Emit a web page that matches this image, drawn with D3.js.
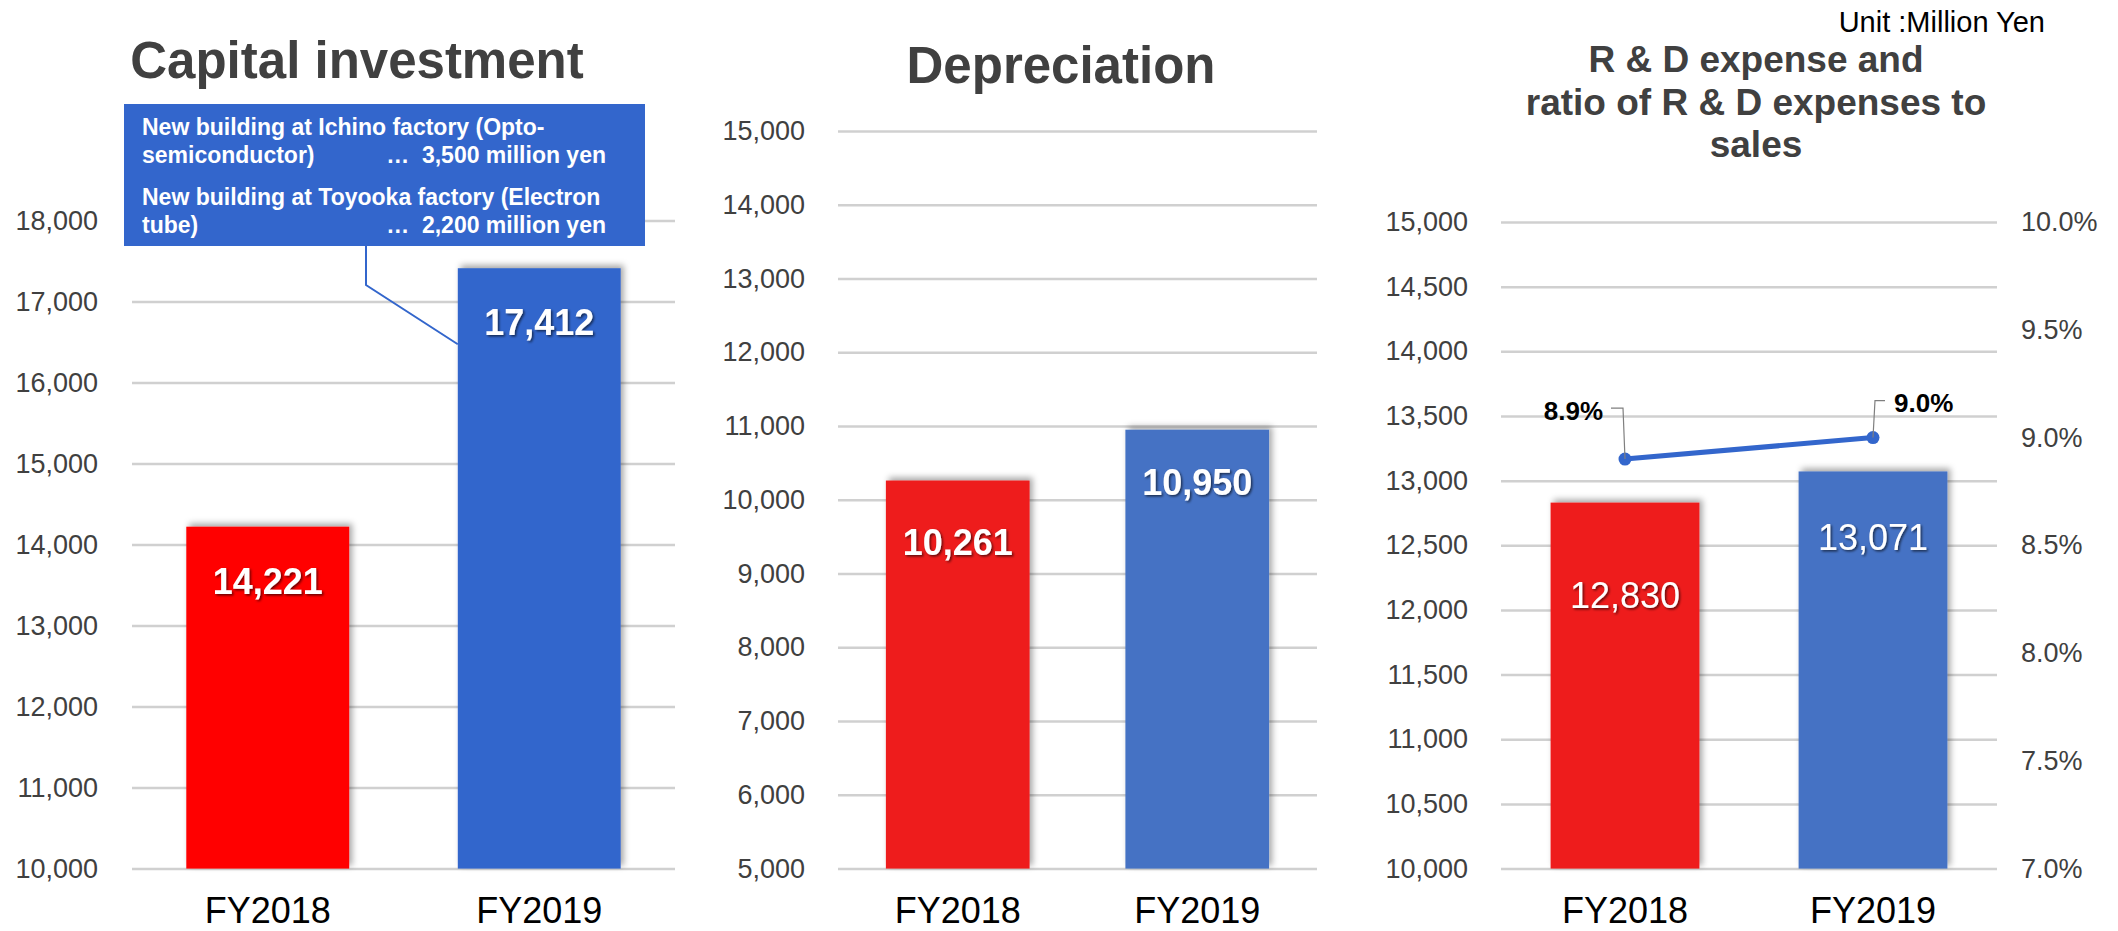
<!DOCTYPE html>
<html>
<head>
<meta charset="utf-8">
<script src="https://cdn.jsdelivr.net/npm/d3@7"></script>
<style>
  html, body { margin: 0; padding: 0; background: #ffffff; }
  svg { display: block; font-family: "Liberation Sans", Arial, sans-serif; }
</style>
</head>
<body>
<svg id="chart" width="2118" height="931"></svg>
<script>
// Data
const fiscalYears = ["FY2018", "FY2019"];
const capitalInvestment = [14221, 17412];
const depreciation = [10261, 10950];
const rdExpense = [12830, 13071];
const rdRatio = [8.9, 9.0];

const capexTicks = [10000, 11000, 12000, 13000, 14000, 15000, 16000, 17000, 18000];
const deprTicks = [5000, 6000, 7000, 8000, 9000, 10000, 11000, 12000, 13000, 14000, 15000];
const rdTicks = [10000, 10500, 11000, 11500, 12000, 12500, 13000, 13500, 14000, 14500, 15000];
const ratioTicks = [7.0, 7.5, 8.0, 8.5, 9.0, 9.5, 10.0];

const capexNotes = [
    ["New building at Ichino factory (Opto-", "semiconductor)", "\u2026\u00a0 3,500 million yen"],
    ["New building at Toyooka factory (Electron", "tube)", "\u2026\u00a0 2,200 million yen"]
];

const titleColour = "#404040";
const gridColour = "#d0d0d0";

const svg = d3.select("#chart");
const defs = svg.append("defs");

// Soft shadow behind the bars
defs.append("filter").attr("id", "barShadow")
    .attr("x", "-20%").attr("y", "-20%").attr("width", "140%").attr("height", "140%")
    .append("feDropShadow")
    .attr("dx", 3).attr("dy", -3).attr("stdDeviation", 3)
    .attr("flood-color", "#000").attr("flood-opacity", 0.35);

// Dark shadow under the white value labels
defs.append("filter").attr("id", "textShadow")
    .attr("x", "-10%").attr("y", "-20%").attr("width", "120%").attr("height", "140%")
    .append("feDropShadow")
    .attr("dx", 1.5).attr("dy", 1.5).attr("stdDeviation", 1)
    .attr("flood-color", "#000").attr("flood-opacity", 0.6);

const fmt = d3.format(",");

function drawPanel(p) {
    const g = svg.append("g").attr("class", "panel");

    const x = d3.scaleBand()
        .domain(fiscalYears)
        .range([p.left, p.right])
        .paddingInner(0.4)
        .paddingOuter(0.2);

    const y = d3.scaleLinear()
        .domain(p.domain)
        .range([p.bottom, p.top]);

    // Gridlines
    g.append("g")
        .attr("transform", `translate(${p.left},0)`)
        .call(d3.axisLeft(y).tickValues(p.ticks).tickSize(-(p.right - p.left)).tickFormat(""))
        .call(a => a.select(".domain").remove())
        .selectAll("line")
        .attr("stroke", gridColour)
        .attr("stroke-width", 2.5);

    // Left tick labels
    g.append("g")
        .attr("transform", `translate(${p.labelRight},0)`)
        .call(d3.axisLeft(y).tickValues(p.ticks).tickSize(0).tickPadding(0).tickFormat(fmt))
        .call(a => a.select(".domain").remove())
        .selectAll("text")
        .attr("font-family", "Liberation Sans, Arial, sans-serif")
        .attr("font-size", 27)
        .attr("fill", titleColour);

    // Bars
    g.selectAll("rect.bar")
        .data(p.values)
        .join("rect")
        .attr("class", "bar")
        .attr("x", (d, i) => x(fiscalYears[i]))
        .attr("width", x.bandwidth())
        .attr("y", d => y(d))
        .attr("height", d => y(p.domain[0]) - y(d))
        .attr("fill", (d, i) => p.colours[i])
        .attr("filter", "url(#barShadow)");

    // Value labels inside the bar ends
    g.selectAll("text.value")
        .data(p.values)
        .join("text")
        .attr("class", "value")
        .attr("x", (d, i) => x(fiscalYears[i]) + x.bandwidth() / 2)
        .attr("y", (d, i) => y(d) + p.labelDy[i])
        .attr("dy", "0.36em")
        .attr("text-anchor", "middle")
        .attr("font-size", 36)
        .attr("font-weight", p.labelWeight)
        .attr("fill", "#fff")
        .attr("filter", "url(#textShadow)")
        .text(d => fmt(d));

    // Category labels
    g.append("g")
        .attr("transform", `translate(0,${p.bottom})`)
        .call(d3.axisBottom(x).tickSize(0).tickPadding(29))
        .call(a => a.select(".domain").remove())
        .selectAll("text")
        .attr("font-family", "Liberation Sans, Arial, sans-serif")
        .attr("font-size", 36)
        .attr("fill", "#000");

    // Title
    const title = g.append("text")
        .attr("x", p.titleX)
        .attr("y", p.titleY)
        .attr("text-anchor", "middle")
        .attr("font-size", p.titleSize)
        .attr("font-weight", "bold")
        .attr("fill", titleColour);
    p.title.forEach((t, i) => {
        title.append("tspan")
            .attr("x", p.titleX)
            .attr("dy", i === 0 ? 0 : p.titleLead)
            .text(t);
    });

    return { g, x, y };
}

// Capital investment
const cap = drawPanel({
    left: 132, right: 675, top: 220.6, bottom: 868.6, labelRight: 98,
    domain: [10000, 18000], ticks: capexTicks, values: capitalInvestment,
    colours: ["#ff0000", "#3366cc"], labelDy: [54, 54], labelWeight: "bold",
    title: ["Capital investment"], titleX: 357, titleY: 78, titleSize: 51, titleLead: 0
});

// Callout box for the FY2019 investment
const box = { x: 124, y: 104, w: 521, h: 142 };
cap.g.append("polyline")
    .attr("points", [[366, box.y + box.h], [366, 285],
        [cap.x("FY2019"), cap.y(capitalInvestment[1]) + 76]].join(" "))
    .attr("fill", "none")
    .attr("stroke", "#3366cc")
    .attr("stroke-width", 2);
cap.g.append("rect")
    .attr("x", box.x).attr("y", box.y)
    .attr("width", box.w).attr("height", box.h)
    .attr("fill", "#3366cc");
capexNotes.forEach((note, i) => {
    const base = box.y + 31 + i * 70;
    cap.g.append("text")
        .attr("x", box.x + 18).attr("y", base)
        .attr("font-size", 23).attr("font-weight", "bold").attr("fill", "#fff")
        .text(note[0]);
    cap.g.append("text")
        .attr("x", box.x + 18).attr("y", base + 28)
        .attr("font-size", 23).attr("font-weight", "bold").attr("fill", "#fff")
        .text(note[1]);
    cap.g.append("text")
        .attr("x", box.x + box.w - 39).attr("y", base + 28)
        .attr("text-anchor", "end")
        .attr("font-size", 23).attr("font-weight", "bold").attr("fill", "#fff")
        .text(note[2]);
});

// Depreciation
drawPanel({
    left: 838, right: 1317, top: 131, bottom: 868.6, labelRight: 805,
    domain: [5000, 15000], ticks: deprTicks, values: depreciation,
    colours: ["#ee1c1c", "#4472c4"], labelDy: [61, 52], labelWeight: "bold",
    title: ["Depreciation"], titleX: 1061, titleY: 83, titleSize: 51, titleLead: 0
});

// R & D expense with ratio line
const rd = drawPanel({
    left: 1501, right: 1997, top: 222, bottom: 868.6, labelRight: 1468,
    domain: [10000, 15000], ticks: rdTicks, values: rdExpense,
    colours: ["#ee1c1c", "#4472c4"], labelDy: [92, 66], labelWeight: "normal",
    title: ["R & D expense and", "ratio of R & D expenses to", "sales"],
    titleX: 1756, titleY: 72, titleSize: 37, titleLead: 42.5
});

const yRatio = d3.scaleLinear().domain([7, 10]).range([868.6, 222]);

rd.g.append("g")
    .attr("transform", "translate(2021,0)")
    .call(d3.axisRight(yRatio).tickValues(ratioTicks).tickSize(0).tickPadding(0)
        .tickFormat(d => d3.format(".1f")(d) + "%"))
    .call(a => a.select(".domain").remove())
    .selectAll("text")
    .attr("font-family", "Liberation Sans, Arial, sans-serif")
    .attr("font-size", 27)
    .attr("fill", titleColour);

const ratioPoints = rdRatio.map((v, i) => [rd.x(fiscalYears[i]) + rd.x.bandwidth() / 2, yRatio(v)]);

rd.g.append("path")
    .attr("d", d3.line()(ratioPoints))
    .attr("fill", "none")
    .attr("stroke", "#3366cc")
    .attr("stroke-width", 5);

rd.g.selectAll("circle.pt")
    .data(ratioPoints)
    .join("circle")
    .attr("class", "pt")
    .attr("cx", d => d[0]).attr("cy", d => d[1])
    .attr("r", 6.5)
    .attr("fill", "#3366cc");

// Leader lines and ratio labels (first label to the left, second to the right)
const ratioLabelLayout = [
    { leader: [[-2, -51], [-14, -51]], tx: -22, ty: -48, anchor: "end" },
    { leader: [[2, -37], [12, -37]], tx: 21, ty: -35, anchor: "start" }
];
ratioPoints.forEach((pt, i) => {
    const l = ratioLabelLayout[i];
    rd.g.append("polyline")
        .attr("points", [pt, ...l.leader.map(o => [pt[0] + o[0], pt[1] + o[1]])].join(" "))
        .attr("fill", "none")
        .attr("stroke", "#7f7f7f")
        .attr("stroke-width", 1.2);
    rd.g.append("text")
        .attr("x", pt[0] + l.tx).attr("y", pt[1] + l.ty)
        .attr("dy", "0.36em")
        .attr("text-anchor", l.anchor)
        .attr("font-size", 26).attr("font-weight", "bold").attr("fill", "#000")
        .text(d3.format(".1f")(rdRatio[i]) + "%");
});

// Unit note
svg.append("text")
    .attr("x", 2045).attr("y", 32)
    .attr("text-anchor", "end")
    .attr("font-size", 29)
    .attr("fill", "#000")
    .text("Unit :Million Yen");
</script>
</body>
</html>
